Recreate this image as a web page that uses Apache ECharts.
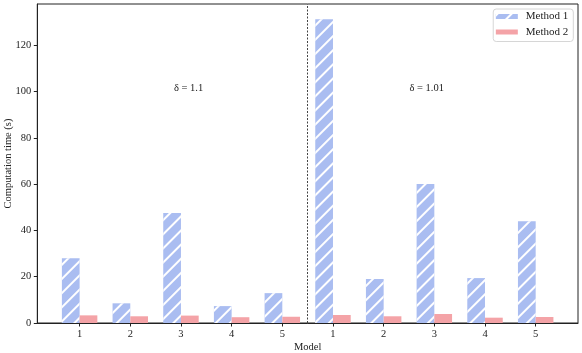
<!DOCTYPE html>
<html>
<head>
<meta charset="utf-8">
<script src="https://cdn.jsdelivr.net/npm/echarts@6/dist/echarts.min.js"></script>
<style>
html,body{margin:0;padding:0;background:#fff;}
#chart{width:582px;height:353px;}
</style>
</head>
<body>
<div id="chart"></div>
<script>
// Data
var tickLabels = ['1','2','3','4','5','1','2','3','4','5'];
var positions = [0,1,2,3,4,5,6,7,8,9];
var method1 = [28.0, 8.5, 47.5, 7.3, 12.9, 131.2, 19.0, 60.0, 19.4, 43.9];
var method2 = [3.3, 2.9, 3.2, 2.5, 2.7, 3.45, 2.9, 3.9, 2.3, 2.6];
var yTicks = [0,20,40,60,80,100,120];
var annotations = [
  {text: '\u03b4 = 1.1', x: 2.15, y: 101.4},
  {text: '\u03b4 = 1.01', x: 6.85, y: 101.4}
];
var separatorX = 4.5;

var FONT = 'Liberation Serif';
var TXT = '#222';

function pairs(vals){ return vals.map(function(v,i){ return [positions[i], v]; }); }

var chart = echarts.init(document.getElementById('chart'), null, {renderer:'canvas'});
chart.setOption({
  animation: false,
  backgroundColor: '#fff',
  textStyle: {fontFamily: FONT, color: TXT},
  grid: {left: 37.3, right: 4, top: 4, bottom: 30, show: true, borderColor: '#222', borderWidth: 1,
    containLabel: false, outerBoundsMode: 'none'},
  legend: {
    orient: 'vertical', right: 8.7, top: 9,
    itemWidth: 22, itemHeight: 5, itemGap: 3.5,
    padding: [1.5, 5, 3.5, 2.6],
    borderColor: '#d6d6d6', borderWidth: 1, borderRadius: 3, backgroundColor: '#fff',
    textStyle: {fontFamily: FONT, fontSize: 11, lineHeight: 12, color: TXT, padding: [0,0,0,3]},
    data: [{name:'Method 1', icon:'rect'}, {name:'Method 2', icon:'rect'}]
  },
  xAxis: {
    type: 'value', min: -0.835, max: 9.835,
    name: 'Model', nameLocation: 'middle', nameGap: 19, nameMoveOverlap: false,
    nameTextStyle: {fontFamily: FONT, fontSize: 10.5, color: TXT},
    axisLine: {show: true, onZero: false, lineStyle: {color: '#222', width: 1}},
    axisTick: {show: true, customValues: positions, length: 3.5, lineStyle: {color: '#222'}},
    axisLabel: {customValues: positions, margin: 6, fontFamily: FONT, fontSize: 10.5, color: TXT,
      formatter: function(v){ return tickLabels[Math.round(v)]; }},
    splitLine: {show: false}
  },
  yAxis: {
    type: 'value', min: 0, max: 137.8,
    name: 'Computation time (s)', nameLocation: 'middle', nameGap: 24, nameMoveOverlap: false,
    nameTextStyle: {fontFamily: FONT, fontSize: 10.5, color: TXT},
    axisLine: {show: true, onZero: false, lineStyle: {color: '#222', width: 1}},
    axisTick: {show: true, customValues: yTicks, length: 3.5, lineStyle: {color: '#222'}},
    axisLabel: {customValues: yTicks, margin: 6, fontFamily: FONT, fontSize: 10.5, color: TXT},
    splitLine: {show: false}
  },
  series: [
    {
      name: 'Method 1', type: 'bar', data: pairs(method1),
      barWidth: 17.73, barGap: '0%',
      itemStyle: {
        color: '#aabdf1',
        decal: {symbol: 'rect', symbolSize: 1, dashArrayX: [1, 0], dashArrayY: [1.6, 7.2], rotation: -Math.PI/4, color: '#ffffff'}
      }
    },
    {
      name: 'Method 2', type: 'bar', data: pairs(method2),
      barWidth: 17.73, barGap: '0%',
      itemStyle: {color: '#f4a3a7'}
    },
    {
      name: 'annotations', type: 'scatter', data: [], silent: true,
      markLine: {
        silent: true, symbol: 'none',
        label: {show: false},
        lineStyle: {color: '#444', type: [2, 1.5], width: 1},
        data: [{xAxis: separatorX}]
      },
      markPoint: {
        symbol: 'circle', symbolSize: 0,
        label: {show: true, position: 'inside', fontFamily: FONT, fontSize: 10.5, color: TXT,
          formatter: function(p){ return p.name; }},
        data: annotations.map(function(a){ return {name: a.text, coord: [a.x, a.y]}; })
      }
    }
  ]
});
</script>
</body>
</html>
